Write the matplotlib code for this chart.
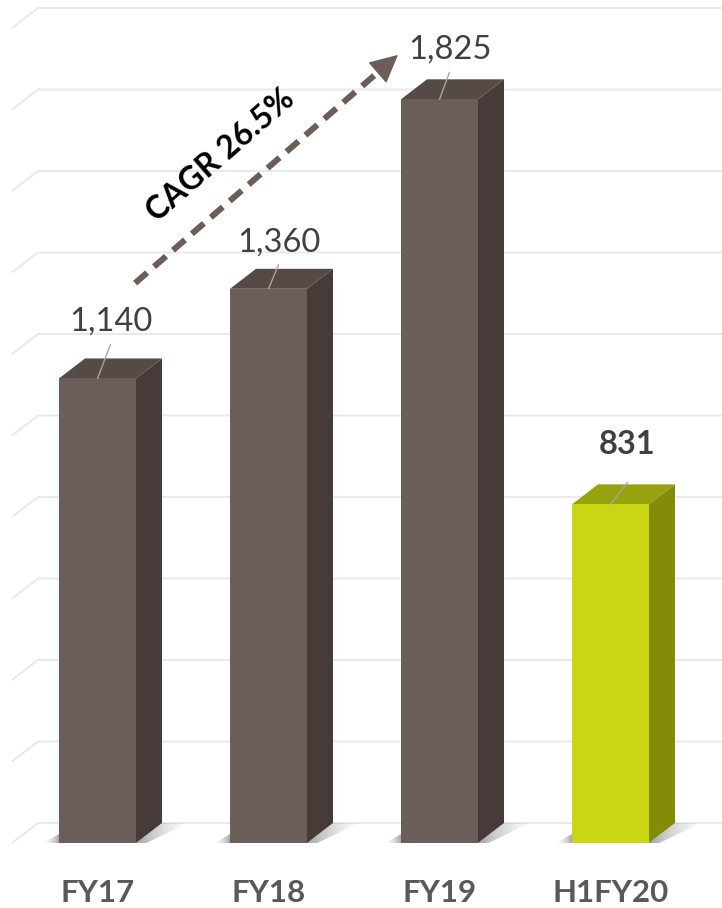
import numpy as np
import matplotlib
matplotlib.use("Agg")
import matplotlib.pyplot as plt
from matplotlib.patches import Polygon, Rectangle, FancyArrowPatch

# ---- data ----
categories = ["FY17", "FY18", "FY19", "H1FY20"]
values = [1140, 1360, 1825, 831]
value_labels = ["1,140", "1,360", "1,825", "831"]
highlight = [False, False, False, True]
cagr_text = "CAGR 26.5%"

# ---- layout / style ----
W, H = 722, 908
fig = plt.figure(figsize=(W / 100, H / 100), dpi=100)
ax = fig.add_axes([12 / W, 65 / H, 684 / W, 815 / H])
ax.set_xlim(-0.5, 3.5)
ax.set_ylim(0, 2000)
ax.axis("off")

PX_X = 684 / 4.0        # pixels per x unit
PX_Y = 815 / 2000.0     # pixels per y unit
DX = 26 / PX_X          # depth offset (data units)
DY = 20 / PX_Y
BAR_W = 77 / PX_X

plt.rcParams["font.family"] = ["Lato", "DejaVu Sans"]

grid_c = "#e9e9e9"
for g in np.arange(0, 2001, 200):
    ax.plot([-0.5, -0.5 + DX, 3.5 + DX], [g, g + DY, g + DY], color=grid_c,
            lw=1.4, zorder=1, clip_on=False, solid_capstyle="butt")

col_grey = dict(front="#6b5d57", top="#554a45", side="#463b38")
col_lime = dict(front="#cad513", top="#98a10e", side="#848b09")

def gradient_patch(extent, alpha_from, alpha_to, poly, power=1.0):
    n = 64
    t = np.linspace(0, 1, n) ** power
    a = alpha_from + (alpha_to - alpha_from) * t
    img = np.zeros((1, n, 4))
    img[0, :, 3] = a
    img[..., :3] = 0.25
    im = ax.imshow(img, extent=extent, aspect="auto", zorder=1.5,
                   interpolation="bilinear", origin="lower")
    p = Polygon(poly, closed=True, transform=ax.transData, fill=False)
    im.set_clip_path(p)

S = 26 / PX_X
for i, v in enumerate(values):
    xl, xr = i - BAR_W / 2, i + BAR_W / 2
    # floor shadow right
    gradient_patch((xr, xr + DX + S, 0, DY), 0.55, 0.0,
                   [(xr, 0), (xr + DX, DY), (xr + DX + S, DY), (xr + S * 0.4, 0)],
                   power=0.6)
    # floor shadow left
    L = 16 / PX_X
    gradient_patch((xl - L, xl, 0, DY * 0.5), 0.0, 0.45,
                   [(xl - L, 0), (xl, 0), (xl, DY * 0.45)], power=1.5)

for i, (v, hl) in enumerate(zip(values, highlight)):
    c = col_lime if hl else col_grey
    xl, xr = i - BAR_W / 2, i + BAR_W / 2
    side = Polygon([(xr, 0), (xr + DX, DY), (xr + DX, v + DY), (xr, v)],
                   closed=True, facecolor=c["side"], edgecolor="none", zorder=2)
    top = Polygon([(xl, v), (xr, v), (xr + DX, v + DY), (xl + DX, v + DY)],
                  closed=True, facecolor=c["top"], edgecolor="none", zorder=2)
    front = Rectangle((xl, 0), BAR_W, v, facecolor=c["front"],
                      edgecolor="none", zorder=2.1)
    for p in (side, top, front):
        ax.add_patch(p)

# value labels with leader lines (pixel offsets -> points)
lab_off = [(13.5, 48), (10.5, 37), (10, 41), (17, 50)]
lead_off = [(13, 34), (10, 24), (10, 27), (17, 22)]
k = 0.72
for i, (v, t, hl) in enumerate(zip(values, value_labels, highlight)):
    ax.annotate("", xy=(i, v), xytext=(lead_off[i][0] * k, lead_off[i][1] * k),
                textcoords="offset points",
                arrowprops=dict(arrowstyle="-", color="#a6a6a6", lw=1.0,
                                shrinkA=0, shrinkB=0), zorder=3)
    ax.annotate(t, xy=(i, v), xytext=(lab_off[i][0] * k, lab_off[i][1] * k),
                textcoords="offset points", ha="center", va="baseline",
                fontsize=23.5, color="#404040",
                fontweight="bold" if hl else "normal", zorder=4)

# category labels
for i, c in enumerate(categories):
    ax.annotate(c, xy=(i, 0), xytext=(0, -59 * k), textcoords="offset points",
                ha="center", va="baseline", fontsize=22.5, fontweight="bold",
                color="#595959")

# CAGR arrow
arrow_c = "#6b5d57"
start = np.array([0.22, values[0] + 234])
tip = np.array([1.757, values[2] + 109])
ps = ax.transData.transform(start)
pt = ax.transData.transform(tip)
d = (pt - ps) / np.hypot(*(pt - ps))
base = ax.transData.inverted().transform(pt - d * 24)
ax.plot([start[0], base[0]], [start[1], base[1]], color=arrow_c, lw=4.4,
        linestyle=(0, (2.6, 1.5)), dash_capstyle="butt", zorder=3)
arr = FancyArrowPatch(posA=tuple(base), posB=tuple(tip),
                      arrowstyle="-|>,head_length=0.9,head_width=0.45",
                      mutation_scale=20, color=arrow_c, lw=1, shrinkA=0,
                      shrinkB=0, zorder=3)
ax.add_patch(arr)
ang = np.degrees(np.arctan2(pt[1] - ps[1], pt[0] - ps[0]))
ax.text(0.722, 1688, cagr_text, rotation=ang, rotation_mode="anchor",
        ha="center", va="center", fontsize=23, fontweight="bold", color="black",
        zorder=4)

fig.savefig("out.png", dpi=100, facecolor="white")
